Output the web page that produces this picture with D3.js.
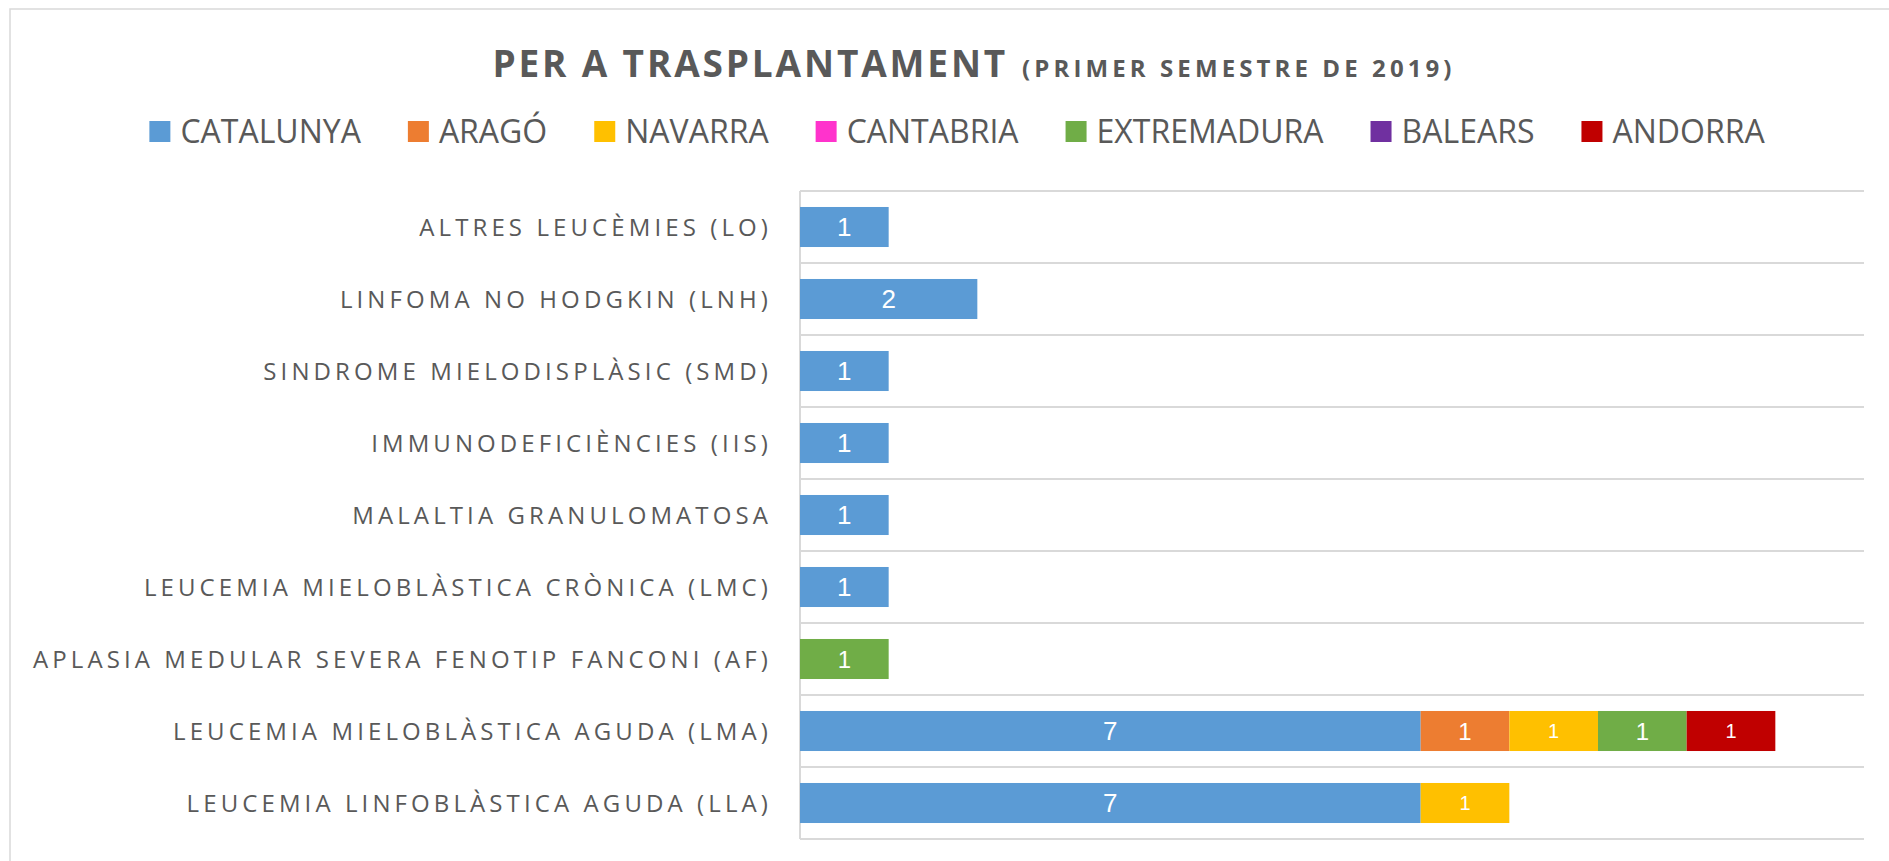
<!DOCTYPE html>
<html>
<head>
    <meta charset="utf-8">
    <title>Per a trasplantament</title>
    <script src="https://d3js.org/d3.v7.min.js"></script>
    <style>
        body {
            margin: 0;
            background: #fff;
            font-family: "Open Sans", sans-serif;
        }
        .cat-label {
            font-size: 24px;
            letter-spacing: 4.1px;
            fill: #595959;
        }
        .legend-label {
            font-size: 32px;
            fill: #595959;
        }
        .bar-label {
            font-family: "Liberation Sans", Arial, sans-serif;
            fill: #fff;
        }
    </style>
</head>
<body>
    <div id="chart"></div>

    <script>
        // categories, top to bottom as drawn
        const categories = [
            "ALTRES LEUCÈMIES (LO)",
            "LINFOMA NO HODGKIN (LNH)",
            "SINDROME MIELODISPLÀSIC (SMD)",
            "IMMUNODEFICIÈNCIES (IIS)",
            "MALALTIA GRANULOMATOSA",
            "LEUCEMIA MIELOBLÀSTICA CRÒNICA (LMC)",
            "APLASIA MEDULAR SEVERA FENOTIP FANCONI (AF)",
            "LEUCEMIA MIELOBLÀSTICA AGUDA (LMA)",
            "LEUCEMIA LINFOBLÀSTICA AGUDA (LLA)"
        ];

        const seriesNames = ["CATALUNYA", "ARAGÓ", "NAVARRA", "CANTABRIA", "EXTREMADURA", "BALEARS", "ANDORRA"];

        const catalunya   = [1, 2, 1, 1, 1, 1, 0, 7, 7];
        const arago       = [0, 0, 0, 0, 0, 0, 0, 1, 0];
        const navarra     = [0, 0, 0, 0, 0, 0, 0, 1, 1];
        const cantabria   = [0, 0, 0, 0, 0, 0, 0, 0, 0];
        const extremadura = [0, 0, 0, 0, 0, 0, 1, 1, 0];
        const balears     = [0, 0, 0, 0, 0, 0, 0, 0, 0];
        const andorra     = [0, 0, 0, 0, 0, 0, 0, 1, 0];

        const xMax = 12;

        const colors = ["#5B9BD5", "#ED7D31", "#FFC000", "#FF33CC", "#70AD47", "#7030A0", "#C00000"];
        // label sizes differ per series in the original
        const labelSizes = [26, 24, 20, 24, 24, 24, 20];

        const allSeries = [catalunya, arago, navarra, cantabria, extremadura, balears, andorra];

        const width = 1889;
        const height = 861;
        const margin = { top: 191, left: 800, right: 25, bottom: 22 };

        const svg = d3.select("#chart").append("svg")
            .attr("width", width)
            .attr("height", height);

        svg.append("rect")
            .attr("width", width)
            .attr("height", height)
            .attr("fill", "#fff");

        // chart border (runs off the right and bottom edges)
        svg.append("rect")
            .attr("x", 10)
            .attr("y", 9)
            .attr("width", width + 20)
            .attr("height", height + 20)
            .attr("fill", "none")
            .attr("stroke", "#D9D9D9")
            .attr("stroke-width", 1.5);

        const x = d3.scaleLinear()
            .domain([0, xMax])
            .range([margin.left, width - margin.right]);

        const y = d3.scaleBand()
            .domain(categories)
            .range([margin.top, height - margin.bottom])
            .paddingInner(0.444)
            .paddingOuter(0.222);

        // stacked data
        const rows = categories.map((c, i) => {
            const r = { cat: c };
            seriesNames.forEach((s, j) => r[s] = allSeries[j][i]);
            return r;
        });
        const stacked = d3.stack().keys(seriesNames)(rows);

        // horizontal gridlines at category boundaries
        const boundaries = categories.map(c => y(c) - y.step() * y.paddingInner() / 2);
        boundaries.push(height - margin.bottom);
        svg.append("g")
            .selectAll("line")
            .data(boundaries)
            .enter()
            .append("line")
            .attr("x1", margin.left)
            .attr("x2", width - margin.right)
            .attr("y1", d => d)
            .attr("y2", d => d)
            .attr("stroke", "#D9D9D9")
            .attr("stroke-width", 2);

        // vertical axis line
        svg.append("line")
            .attr("x1", margin.left)
            .attr("x2", margin.left)
            .attr("y1", margin.top)
            .attr("y2", height - margin.bottom)
            .attr("stroke", "#D9D9D9")
            .attr("stroke-width", 2);

        // bars
        const layers = svg.append("g")
            .selectAll("g")
            .data(stacked)
            .enter()
            .append("g")
            .attr("fill", (d, i) => colors[i]);

        layers.selectAll("rect")
            .data(d => d.filter(p => p[1] > p[0]))
            .enter()
            .append("rect")
            .attr("x", d => x(d[0]))
            .attr("y", d => y(d.data.cat))
            .attr("width", d => x(d[1]) - x(d[0]))
            .attr("height", y.bandwidth());

        // data labels
        stacked.forEach((layer, i) => {
            svg.append("g")
                .selectAll("text")
                .data(layer.filter(p => p[1] > p[0]))
                .enter()
                .append("text")
                .attr("class", "bar-label")
                .attr("x", d => (x(d[0]) + x(d[1])) / 2)
                .attr("y", d => y(d.data.cat) + y.bandwidth() / 2)
                .attr("dy", "0.36em")
                .attr("text-anchor", "middle")
                .style("font-size", labelSizes[i] + "px")
                .text(d => d[1] - d[0]);
        });

        // category labels
        svg.append("g")
            .selectAll("text")
            .data(categories)
            .enter()
            .append("text")
            .attr("class", "cat-label")
            .attr("x", margin.left - 28)
            .attr("y", d => y(d) + y.bandwidth() / 2)
            .attr("dy", "0.36em")
            .attr("text-anchor", "end")
            .text(d => d);

        // title
        const title = svg.append("g");
        const t1 = title.append("text")
            .attr("y", 77)
            .style("font-size", "37px")
            .style("font-weight", "bold")
            .style("letter-spacing", "2.85px")
            .attr("fill", "#595959")
            .text("PER A TRASPLANTAMENT");
        const t2 = title.append("text")
            .attr("y", 77)
            .style("font-size", "24px")
            .style("font-weight", "bold")
            .style("letter-spacing", "4.1px")
            .attr("fill", "#595959")
            .text("(PRIMER SEMESTRE DE 2019)");
        const w1 = t1.node().getComputedTextLength();
        const w2 = t2.node().getComputedTextLength();
        const titleGap = 14;
        const titleStart = 974 - (w1 + titleGap + w2) / 2;
        t1.attr("x", titleStart);
        t2.attr("x", titleStart + w1 + titleGap);

        // legend
        const legend = svg.append("g");
        const sw = 21, textGap = 10, itemGap = 47;
        let lx = 0;
        seriesNames.forEach((s, i) => {
            const item = legend.append("g").attr("transform", `translate(${lx},0)`);
            item.append("rect")
                .attr("x", 0)
                .attr("y", 121)
                .attr("width", sw)
                .attr("height", sw)
                .attr("fill", colors[i]);
            const txt = item.append("text")
                .attr("class", "legend-label")
                .attr("x", sw + textGap)
                .attr("y", 143)
                .text(s);
            lx += sw + textGap + txt.node().getComputedTextLength() + itemGap;
        });
        const legendWidth = lx - itemGap;
        legend.attr("transform", `translate(${957 - legendWidth / 2},0)`);
    </script>
</body>
</html>
